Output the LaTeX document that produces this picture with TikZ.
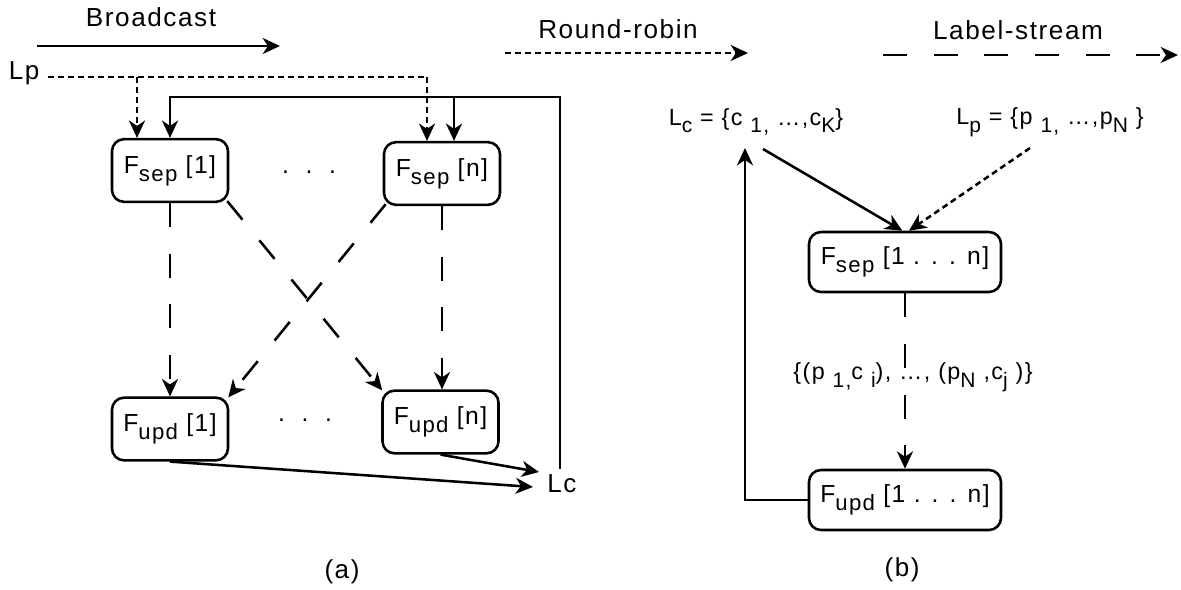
\documentclass[tikz,border=0pt]{standalone}
\usepackage{fontspec}
\usepackage{graphicx}
\setmainfont{Liberation Sans}[LetterSpace=6]
\usetikzlibrary{arrows.meta}
\newcommand\sbs[1]{\raisebox{-0.33em}{\scalebox{0.9}{#1}}}
\newcommand\fslegend{\fontsize{19.6pt}{22pt}\selectfont}
\newcommand\fsbox{\fontsize{18.5pt}{21pt}\selectfont}
\newcommand\fslab{\fontsize{17.5pt}{20pt}\selectfont}
\newcommand\fsl{\fontsize{19.5pt}{22pt}\selectfont}
\begin{document}
\begin{tikzpicture}[x=0.75pt,y=-0.75pt,
  bc/.style={line width=1.9pt},
  rr/.style={line width=1.9pt, dash pattern=on 4.5pt off 3pt},
  ls/.style={line width=1.9pt, dash pattern=on 18pt off 20pt},
  tip/.style={-{Stealth[length=13pt,width=12pt,inset=4pt]}},
  fbox/.style={draw, line width=1.9pt, rounded corners=9pt, minimum width=87pt,
    minimum height=47pt, inner sep=0pt, font=\fsbox},
  wbox/.style={fbox, minimum width=144pt, minimum height=45pt},
  txt/.style={inner sep=0pt}]
\path[use as bounding box] (0,0) rectangle (1181,589);

% legend
\node[txt,font=\fslegend] (tbc) at (151,17) {Broadcast};
\node[txt,font=\fslegend] (trr) at (618,29) {Round-robin};
\node[txt,font=\fslegend] (tls) at (1018,30) {Label-stream};
\coordinate (bcA) at (37,46);  \coordinate (bcB) at (280,46);
\coordinate (rrA) at (505,53); \coordinate (rrB) at (748,53);
\coordinate (lsA) at (883,55); \coordinate (lsB) at (1178,55);
\draw[bc,tip] (bcA) -- (bcB);
\draw[rr,tip] (rrA) -- (rrB);
\draw[ls,tip] (lsA) -- (lsB);

% (a)
\node[fbox] (fs1) at (170,170.5) {F\sbs{sep} [1]};
\node[fbox] (fsn) at (442,173.5) {F\sbs{sep} [n]};
\node[fbox] (fu1) at (170,429) {F\sbs{upd} [1]};
\node[fbox] (fun) at (440.5,422) {F\sbs{upd} [n]};
\node[txt,font=\fsbox] (d1) at (309,172) {.\ \ .\ \ .};
\node[txt,font=\fsbox] (d2) at (305,420) {.\ \ .\ \ .};
\node[txt,font=\fsl] (lpa) at (24,73) {Lp};
\node[txt,font=\fsl] (lca) at (562,484) {Lc};
\node[txt,font=\fsl] (capa) at (342,572) {(a)};

\coordinate (lpE) at (427,77);
\coordinate (lpB) at (137,77);
\draw[rr] (lpa.east |- lpE) ++(8,0) coordinate (lpS) -- (lpE);
\draw[rr,tip] (lpB) -- (lpB |- fs1.north);
\draw[rr,tip] (lpE) -- (lpE |- fsn.north);

\coordinate (fbR) at (560,97);
\coordinate (fbL) at (170,97);
\coordinate (fbM) at (454,97);
\draw[bc,tip] (fbR |- lca.north) ++(0,-6) -- (fbR) -- (fbL) -- (fs1.north);
\draw[bc,tip] (fbM) -- (fbM |- fsn.north);

\draw[ls,tip] (fs1.south) -- (fu1.north);
\draw[ls,tip] (fsn.south) -- (fun.north -| fsn.south);
\draw[ls,tip] ([shift={(-2,-2)}]fs1.south east) -- ([shift={(1,1)}]fun.north west);
\draw[ls,tip] ([shift={(3,-2)}]fsn.south west) -- ([shift={(-1,1)}]fu1.north east);

\coordinate (lcin1) at (533,487);
\coordinate (lcin2) at (539,472);
\draw[bc,tip] (fu1.south) -- (lcin1);
\draw[bc,tip] (fun.south) -- (lcin2);

% (b)
\node[wbox] (fsb) at (905,262) {F\sbs{sep} [1 . . . n]};
\node[wbox] (fub) at (905,500) {F\sbs{upd} [1 . . . n]};
\node[txt,font=\fslab] (lcb) at (756,122) {L\sbs{c} = \{c \sbs{1,} \ldots,c\sbs{K}\}};
\node[txt,font=\fslab] (lpb) at (1050,122) {L\sbs{p} = \{p \sbs{1,} \ldots,p\sbs{N} \}};
\node[txt,font=\fslab] (pairs) at (913,377) {\{(p \sbs{1,}c \sbs{i}), \ldots, (p\sbs{N} ,c\sbs{j} )\}};
\node[txt,font=\fsl] (capb) at (902,570) {(b)};

\coordinate (lcs) at (763,149);
\coordinate (lps) at (1030,148);
\coordinate (lcup) at (745,148);
\draw[bc,tip] (lcs) -- ([xshift=-2]fsb.north);
\draw[rr,tip] (lps) -- ([xshift=3]fsb.north);
\draw[ls,tip] (fsb.south) -- (fub.north);
\draw[bc,tip] (fub.west) -| (lcup);
\end{tikzpicture}
\end{document}
